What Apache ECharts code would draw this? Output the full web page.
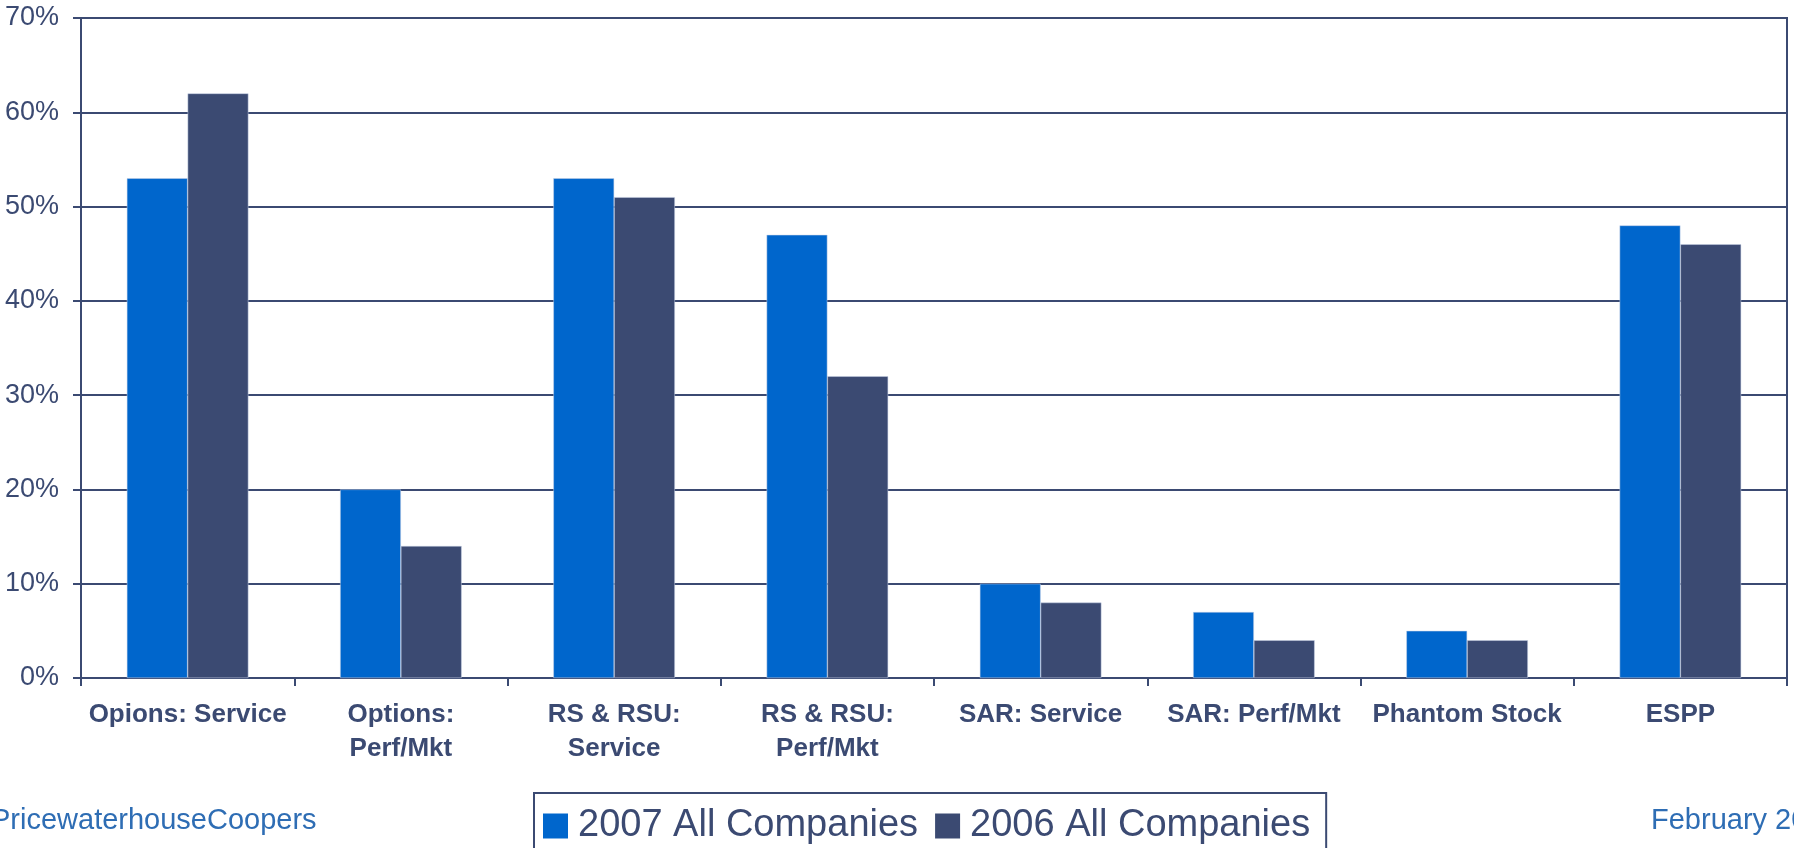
<!DOCTYPE html>
<html>
<head>
<meta charset="utf-8">
<title>Equity vehicles 2007 vs 2006</title>
<script src="https://cdn.jsdelivr.net/npm/echarts@6/dist/echarts.min.js"></script>
<style>
  html, body { margin: 0; padding: 0; background: #fff; }
  #chart { width: 1794px; height: 848px; }
</style>
</head>
<body>
<div id="chart"></div>
<script>
// categories along the x axis (\n = line break as in the slide)
const categories = [
  'Opions: Service',
  'Options:\nPerf/Mkt',
  'RS & RSU:\nService',
  'RS & RSU:\nPerf/Mkt',
  'SAR: Service',
  'SAR: Perf/Mkt',
  'Phantom Stock',
  'ESPP'
];
const seriesNames = ['2007 All Companies', '2006 All Companies'];
// percent of companies
const values2007 = [53, 20, 53, 47, 10, 7, 5, 48];
const values2006 = [62, 14, 51, 32, 8, 4, 4, 46];

const navy = '#3B4A72';
const blue = '#0066CC';

const chart = echarts.init(document.getElementById('chart'));

chart.setOption({
  animation: false,
  textStyle: { fontFamily: 'Liberation Sans, Arial, sans-serif' },
  grid: {
    left: 81, right: 7, top: 18, bottom: 170,
    show: true,
    borderColor: navy,
    borderWidth: 2
  },
  legend: {
    data: seriesNames,
    left: 534,
    top: 793,
    padding: [14, 16, 20, 9],
    borderColor: navy,
    borderWidth: 2,
    itemWidth: 25,
    itemHeight: 25,
    itemGap: 17,
    icon: 'rect',
    itemStyle: { borderWidth: 0 },
    textStyle: { color: navy, fontSize: 38, padding: [0, 0, 0, 5] }
  },
  xAxis: {
    type: 'category',
    data: categories,
    boundaryGap: true,
    axisLine: { lineStyle: { color: navy, width: 2 } },
    axisTick: { show: true, length: 8, lineStyle: { color: navy, width: 2 } },
    axisLabel: {
      color: navy,
      fontSize: 26,
      fontWeight: 'bold',
      lineHeight: 34,
      margin: 20,
      interval: 0,
      align: 'center'
    }
  },
  yAxis: {
    type: 'value',
    min: 0,
    max: 70,
    interval: 10,
    axisLine: { show: true, lineStyle: { color: navy, width: 2 } },
    axisTick: { show: true, length: 8, lineStyle: { color: navy, width: 2 } },
    axisLabel: {
      color: navy,
      fontSize: 27,
      margin: 22,
      formatter: '{value}%'
    },
    splitLine: { show: true, lineStyle: { color: navy, width: 2 } }
  },
  series: [
    {
      name: seriesNames[0],
      type: 'bar',
      data: values2007,
      barGap: '0%',
      barCategoryGap: '43%',
      itemStyle: { color: blue, borderColor: '#c8d3e6', borderWidth: 0.5 }
    },
    {
      name: seriesNames[1],
      type: 'bar',
      data: values2006,
      itemStyle: { color: navy, borderColor: '#c8d3e6', borderWidth: 0.5 }
    }
  ],
  graphic: [
    {
      type: 'text',
      left: -9,
      top: 806,
      style: {
        text: 'PricewaterhouseCoopers',
        fill: '#2E6DB4',
        font: '29px "Liberation Sans", Arial, sans-serif'
      }
    },
    {
      type: 'text',
      left: 1651,
      top: 806,
      style: {
        text: 'February 2007',
        fill: '#2E6DB4',
        font: '29px "Liberation Sans", Arial, sans-serif'
      }
    }
  ]
});
</script>
</body>
</html>
